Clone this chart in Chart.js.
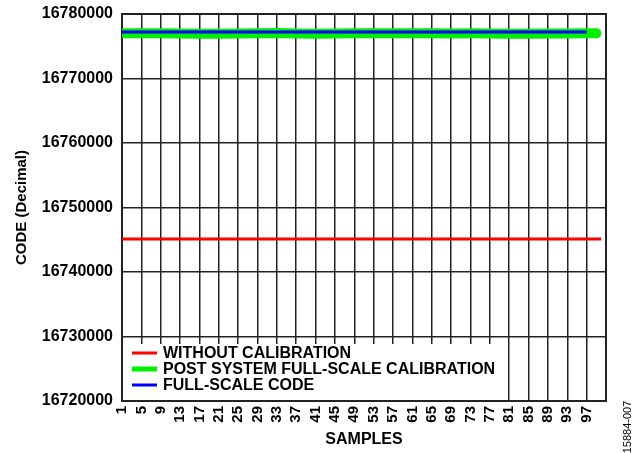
<!DOCTYPE html>
<html>
<head>
<meta charset="utf-8">
<script src="https://cdn.jsdelivr.net/npm/chart.js@4.4.0/dist/chart.umd.min.js"></script>
<style>
  html, body { margin: 0; padding: 0; background: #fff; }
  #wrap { width: 638px; height: 453px; position: relative; }
</style>
</head>
<body>
<div id="wrap"><canvas id="myChart"></canvas></div>
<script>
// sample positions the values were read at
const samples = [1, 5, 9, 13, 17, 21, 25, 29, 33, 37, 41, 45, 49, 53, 57, 61, 65, 69, 73, 77, 81, 85, 89, 93, 97, 99, 100]
const xTicks = [1, 5, 9, 13, 17, 21, 25, 29, 33, 37, 41, 45, 49, 53, 57, 61, 65, 69, 73, 77, 81, 85, 89, 93, 97]
const yTicks = [16720000, 16730000, 16740000, 16750000, 16760000, 16770000, 16780000]

const withoutCal = [16745100, 16745100, 16745100, 16745100, 16745100, 16745100, 16745100, 16745100, 16745100, 16745100,
    16745100, 16745100, 16745100, 16745100, 16745100, 16745100, 16745100, 16745100, 16745100, 16745100,
    16745100, 16745100, 16745100, 16745100, 16745100, 16745100, 16745100]
const postCal = [16777000, 16777000, 16777000, 16776990, 16776950, 16776940, 16776980, 16777030, 16777050, 16776970,
    16776940, 16776970, 16777000, 16777000, 16777010, 16777000, 16777000, 16776990, 16777000, 16776990,
    16776940, 16776950, 16776970, 16776990, 16777000, 16777000]
const fullScale = [16777215, 16777215, 16777215, 16777215, 16777215, 16777215, 16777215, 16777215, 16777215, 16777215,
    16777215, 16777215, 16777215, 16777215, 16777215, 16777215, 16777215, 16777215, 16777215, 16777215,
    16777215, 16777215, 16777215, 16777215, 16777215]

const labels = ['WITHOUT CALIBRATION', 'POST SYSTEM FULL-SCALE CALIBRATION', 'FULL-SCALE CODE']
const colors = ['#ff0000', '#00ee00', '#0000ff']

const toPoints = (vals) => vals.map((v, i) => ({ x: samples[i], y: v }))

const FONT = "'Liberation Sans', Arial, sans-serif"

// frame, legend box and figure id
const extras = {
    id: 'extras',
    beforeDatasetsDraw(chart) {
        const { ctx, chartArea: a } = chart
        ctx.save()
        ctx.strokeStyle = '#222'
        ctx.lineWidth = 2
        ctx.strokeRect(a.left, a.top, a.right - a.left, a.bottom - a.top)
        ctx.restore()
    },
    afterDraw(chart) {
        const { ctx, chartArea: a } = chart
        ctx.save()
        ctx.fillStyle = '#fff'
        ctx.fillRect(a.left + 1, 344, 383, a.bottom - 345)
        const widths = [3, 5, 3]
        labels.forEach((txt, i) => {
            const y = 353 + i * 16
            ctx.strokeStyle = colors[i]
            ctx.lineWidth = widths[i]
            ctx.beginPath()
            ctx.moveTo(132, y)
            ctx.lineTo(157, y)
            ctx.stroke()
            ctx.fillStyle = '#000'
            ctx.font = 'bold 16px ' + FONT
            ctx.textBaseline = 'middle'
            ctx.textAlign = 'left'
            ctx.fillText(txt, 163, y + 1)
        })
        ctx.translate(628, 427)
        ctx.rotate(-Math.PI / 2)
        ctx.font = '11px ' + FONT
        ctx.textAlign = 'center'
        ctx.textBaseline = 'middle'
        ctx.fillStyle = '#000'
        ctx.fillText('15884-007', 0, 0)
        ctx.restore()
    }
}

const config = {
    type: 'line',
    data: {
        datasets: [{
            label: labels[0],
            data: toPoints(withoutCal),
            borderColor: colors[0],
            borderWidth: 3,
            pointRadius: 0,
            order: 2
        }, {
            label: labels[1],
            data: toPoints(postCal),
            borderColor: colors[1],
            borderWidth: 10,
            borderCapStyle: 'round',
            pointRadius: 0,
            order: 1
        }, {
            label: labels[2],
            data: toPoints(fullScale),
            borderColor: colors[2],
            borderWidth: 3,
            pointRadius: 0,
            order: 0
        }]
    },
    options: {
        responsive: false,
        animation: false,
        layout: { padding: { left: 0, top: 14, right: 32, bottom: 0 } },
        plugins: {
            legend: { display: false },
            tooltip: { enabled: false }
        },
        scales: {
            x: {
                type: 'linear',
                min: 1,
                max: 101,
                afterBuildTicks: (s) => { s.ticks = xTicks.map(v => ({ value: v })) },
                afterFit: (s) => { s.height = 52; s.paddingLeft = 0; s.paddingRight = 0 },
                grid: { color: '#222', lineWidth: 1.5, drawTicks: false },
                border: { color: '#222', width: 2 },
                ticks: {
                    autoSkip: false,
                    maxRotation: 90,
                    minRotation: 90,
                    padding: 5,
                    color: '#000',
                    font: { family: FONT, size: 15, weight: 'bold' }
                },
                title: {
                    display: true,
                    text: 'SAMPLES',
                    color: '#000',
                    padding: { top: 4, bottom: 4 },
                    font: { family: FONT, size: 16, weight: 'bold' }
                }
            },
            y: {
                min: 16720000,
                max: 16780000,
                afterBuildTicks: (s) => { s.ticks = yTicks.map(v => ({ value: v })) },
                afterFit: (s) => { s.width = 122; s.paddingTop = 0; s.paddingBottom = 0 },
                grid: { color: '#222', lineWidth: 1.5, drawTicks: false },
                border: { color: '#222', width: 2 },
                ticks: {
                    padding: 9,
                    color: '#000',
                    callback: (v) => String(v),
                    font: { family: FONT, size: 16, weight: 'bold' }
                },
                title: {
                    display: true,
                    text: 'CODE (Decimal)',
                    color: '#000',
                    padding: { top: 13, bottom: 0 },
                    font: { family: FONT, size: 15, weight: 'bold' }
                }
            }
        }
    },
    plugins: [extras]
}

const canvas = document.getElementById('myChart')
canvas.width = 638
canvas.height = 453
const myChart = new Chart(canvas, config)
</script>
</body>
</html>
